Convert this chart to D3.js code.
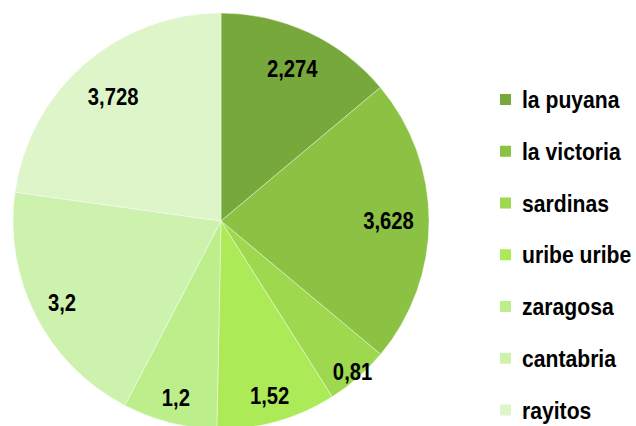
<!DOCTYPE html>
<html>
<head>
<meta charset="utf-8">
<script src="https://cdn.jsdelivr.net/npm/d3@7"></script>
<style>
  body { margin: 0; background: #fff; }
  svg text { font-family: "Liberation Sans", Arial, sans-serif; font-weight: bold; }
</style>
</head>
<body>
<script>
// data
let categories = ["la puyana", "la victoria", "sardinas", "uribe uribe", "zaragosa", "cantabria", "rayitos"];
let values = [2.274, 3.628, 0.81, 1.52, 1.2, 3.2, 3.728];
let valueLabels = ["2,274", "3,628", "0,81", "1,52", "1,2", "3,2", "3,728"];

let colors = ["#77a83b", "#8bc244", "#9dd84e", "#acea58", "#bdee8c", "#cdf2ae", "#ddf5c9"];
// how far out each label sits (fraction of the radius)
let labelPos = [0.81, 0.805, 0.96, 0.87, 0.875, 0.86, 0.79];

var width = 636, height = 426;
var cx = 221, cy = 221, radius = 208;

var svg = d3.select("body").append("svg")
  .attr("width", width)
  .attr("height", height);

var data = categories.map(function(c, i) {
  return { name: c, value: values[i], label: valueLabels[i], color: colors[i], lp: labelPos[i] };
});

var pie = d3.pie().sort(null).value(function(d) { return d.value; });
var arc = d3.arc().innerRadius(0).outerRadius(radius);

var g = svg.append("g").attr("transform", "translate(" + cx + "," + cy + ")");

var slices = g.selectAll("g.slice")
  .data(pie(data))
  .enter()
  .append("g")
  .attr("class", "slice");

slices.append("path")
  .attr("d", arc)
  .attr("fill", function(d) { return d.data.color; })
  .attr("stroke", "#ffffff")
  .attr("stroke-opacity", 0.5)
  .attr("stroke-width", 0.8);

// narrow-looking bold labels (no Arial Narrow here, so squeeze the text)
slices.append("text")
  .attr("transform", function(d) {
    var r = radius * d.data.lp;
    var a = (d.startAngle + d.endAngle) / 2;
    return "translate(" + (Math.sin(a) * r) + "," + (-Math.cos(a) * r) + ") scale(0.88,1)";
  })
  .attr("text-anchor", "middle")
  .attr("dy", "0.36em")
  .attr("font-size", "23px")
  .attr("fill", "#000")
  .text(function(d) { return d.data.label; });

// legend
var legend = svg.append("g").attr("transform", "translate(500,99.5)");
var ly = d3.scalePoint().domain(categories).range([0, 310.5]);

var items = legend.selectAll("g.item")
  .data(data)
  .enter()
  .append("g")
  .attr("class", "item")
  .attr("transform", function(d) { return "translate(0," + ly(d.name) + ")"; });

items.append("rect")
  .attr("x", 0)
  .attr("y", -5.5)
  .attr("width", 11)
  .attr("height", 11)
  .attr("fill", function(d) { return d.color; });

items.append("text")
  .attr("transform", "translate(22,0) scale(0.92,1)")
  .attr("dy", "0.38em")
  .attr("font-size", "23px")
  .attr("fill", "#000")
  .text(function(d) { return d.name; });
</script>
</body>
</html>
